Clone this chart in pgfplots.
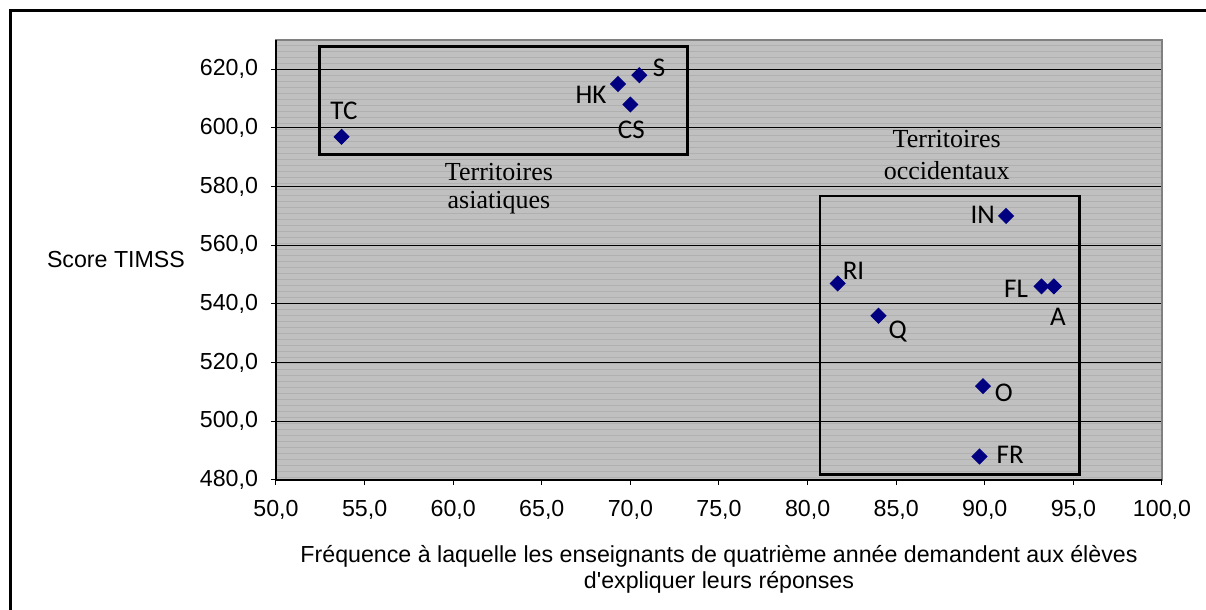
\documentclass[border=0pt]{standalone}
\usepackage{pgfplots}
\pgfplotsset{compat=1.18}
\usepackage{pgfplotstable}
\usepackage{fontspec}
\setmainfont{Liberation Sans}
\newfontfamily\serif{Liberation Serif}
\newfontfamily\lab{Carlito}
\usetikzlibrary{patterns}

\definecolor{bg}{HTML}{C0C0C0}
\definecolor{stripe}{HTML}{B0B0B0}
\definecolor{navy}{HTML}{000080}
\definecolor{plotframe}{HTML}{808080}

% x, y, label, label offset (pt)
\pgfplotstableread{
x     y    lab  dx    dy
53.7  597  TC   1.2   13.1
69.3  615  HK   -13.5 -5.4
70.5  618  S    9.9   3.7
70.0  608  CS   0.5   -12.5
91.2  570  IN   -11.7 0.4
81.7  547  RI   7.9   6.5
93.2  546  FL   -12.7 -1.3
93.9  546  A    2.0   -15.3
84.0  536  Q    9.6   -7.7
89.9  512  O    10.4  -3.3
89.7  488  FR   15.4  0.9
}\pays

\begin{document}
\begin{tikzpicture}
\useasboundingbox (0,0) rectangle (603pt,305pt);
\draw[line width=1.5pt] (5.15pt,-2pt) -- (5.15pt,299.6pt) -- (606pt,299.6pt);
\begin{axis}[
    at={(138pt,65pt)}, anchor=south west,
    width=443pt, height=220pt, scale only axis,
    xmin=50, xmax=100, ymin=480, ymax=630,
    xtick={50,55,...,100}, ytick={480,500,...,620},
    clip=false,
    tick pos=left, tick align=outside,
    major tick length=2.5pt,
    tick style={black, line width=0.5pt},
    axis line style={draw=plotframe, line width=0.9pt},
    axis background/.style={fill=bg, postaction={pattern=horizontal lines, pattern color=stripe}},
    ymajorgrids, grid style={black, line width=0.5pt},
    tick label style={font=\fontsize{11.6}{13}\selectfont},
    xticklabel style={yshift=-4pt},
    yticklabel style={xshift=-3pt},
    /pgf/number format/fixed, /pgf/number format/fixed zerofill,
    /pgf/number format/precision=1, /pgf/number format/use comma,
    /pgf/number format/1000 sep={}, /pgf/number format/assume math mode=true,
    xlabel={Fréquence à laquelle les enseignants de quatrième année demandent aux élèves\\d\textquotesingle expliquer leurs réponses},
    xlabel style={at={(axis description cs:0.5,-0.148)}, anchor=north, inner sep=0pt,
        align=center, font=\fontsize{11.6}{12.8}\selectfont},
    ylabel={Score TIMSS},
    ylabel style={at={(axis description cs:-0.1806,0.5)}, anchor=center, rotate=-90,
        inner sep=0pt, font=\fontsize{11.6}{13}\selectfont},
]
\draw[line width=1.4pt] (axis cs:52.44,591.0) rectangle (axis cs:73.23,627.9);
\draw[line width=1.4pt] (axis cs:80.70,482.0) rectangle (axis cs:95.33,576.8);
\draw[black, line width=0.7pt] (rel axis cs:0,1) -- (rel axis cs:0,0) -- (rel axis cs:1,0);

\node[font=\serif\fontsize{13}{14}\selectfont, anchor=base] at (axis cs:62.58,582.2) {Territoires};
\node[font=\serif\fontsize{13}{14}\selectfont, anchor=base] at (axis cs:62.58,572.7) {asiatiques};
\node[font=\serif\fontsize{13}{14}\selectfont, anchor=base] at (axis cs:87.85,593.2) {Territoires};
\node[font=\serif\fontsize{13}{14}\selectfont, anchor=base] at (axis cs:87.85,582.6) {occidentaux};

\addplot[only marks, mark=square*, mark size=2.65pt, color=navy,
    mark options={rotate=45},
    point meta=explicit symbolic,
    visualization depends on={\thisrow{dx} \as \dx},
    visualization depends on={\thisrow{dy} \as \dy},
    nodes near coords,
    every node near coord/.append style={anchor=center, inner sep=0pt, black,
        font=\lab\fontsize{13.5}{14}\selectfont, xshift=\dx pt, yshift=\dy pt},
] table[x=x, y=y, meta=lab] {\pays};
\end{axis}
\end{tikzpicture}
\end{document}
